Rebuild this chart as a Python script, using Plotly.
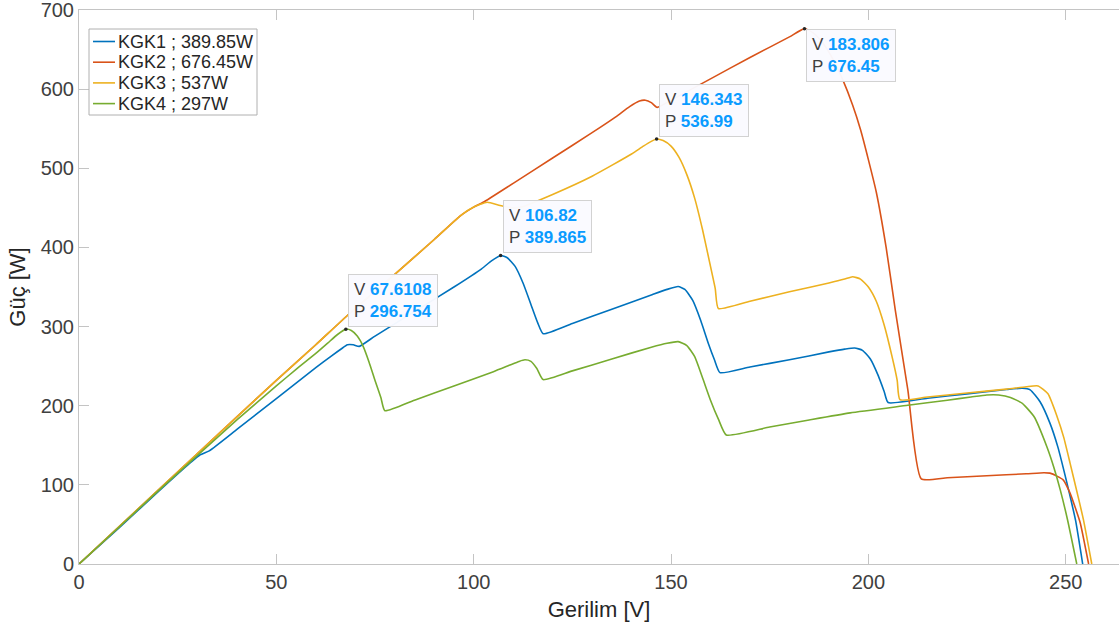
import plotly.graph_objects as go

# Power-voltage curves of four shaded PV array configurations
v_kgk1 = [0, 10, 20, 28, 30.7, 33, 40, 50, 60, 64, 66.5, 68, 69.5, 71, 75, 85, 95, 102, 104.5,
          106.82, 108.5, 110.5, 112.5, 114.5, 116.2, 117.6, 125, 135, 145, 149, 151.8, 153.5,
          155.5, 157.5, 159.5, 161, 162.4, 170, 180, 190, 194, 196.5, 198.5, 200.5, 202.5, 204,
          205, 215, 225, 235, 239, 241, 243.5, 246, 248, 249.5, 251, 252.5, 254.3]
p_kgk1 = [0, 45, 91, 127, 138, 143, 170, 209, 248, 263, 272, 277, 277, 275, 288, 319, 350, 373, 383,
          389.865, 387, 376, 355, 328, 305, 291, 304, 322, 340, 347, 350.6, 347,
          333, 308, 278, 258, 241.8, 249, 258, 268, 271.5, 273, 270, 259, 238, 218,
          204, 209.5, 215, 220.5, 222, 220, 205, 178, 148, 119, 88, 55, 0]

v_kgk2 = [0, 20, 40, 50, 60, 68, 80, 90, 96.6, 100, 102.4, 110, 120, 130, 136, 139.5, 142, 143.5,
          145, 146.5, 150, 160, 170, 180, 183.806, 186, 188.5, 191, 193.5, 196, 198, 200, 202,
          204.5, 206.8, 210, 213.4, 220, 230, 240, 244.5, 246, 247.8, 249.4, 251.1, 252.5, 253.7, 255.8]
p_kgk2 = [0, 93, 186, 232, 277, 314, 366, 410, 440, 451, 457, 481, 513, 545, 565, 578, 585, 586,
          583, 577, 586, 613, 640, 666, 676.45, 671, 658, 638, 612, 580, 549, 511, 470,
          400, 321.5, 220, 107.6, 109, 111.5, 114, 115.3, 114.8, 111, 106, 89.5, 70, 51.5, 0]

v_kgk3 = [0, 20, 40, 50, 60, 68, 80, 90, 96.6, 100, 103.4, 106.7, 110, 112, 120, 130, 140, 143, 145,
          146.343, 148, 150, 152, 154, 156, 158, 160, 161.2, 162, 170, 180, 190, 194, 196, 198,
          200, 202, 204, 206, 207.3, 208, 215, 225, 235, 240, 243, 245.5, 247.8, 249.5, 251.1,
          253, 254.5, 256.6]
p_kgk3 = [0, 93, 186, 232, 277, 314, 366, 410, 440, 451, 457, 453, 450, 451, 467, 490, 518, 528, 534,
          536.99, 535, 528, 514, 492, 462, 422, 376, 348, 322.8, 332, 344, 355, 360, 363, 360,
          350, 332, 302, 262, 232, 207.6, 211, 216, 221, 224, 225, 215, 186.5, 160, 127.5,
          88, 55.7, 0]

v_kgk4 = [0, 20, 40, 50, 55, 60, 63, 65.5, 67.6108, 69, 70.5, 72, 73.5, 75, 76.5, 77.5, 85, 95,
          105, 109, 111.5, 113, 114.5, 116, 117.6, 125, 135, 145, 149, 151.8, 154, 156, 158, 160,
          162, 164, 175, 185, 195.4, 210, 220, 226, 230, 233, 236, 239, 242, 245.2, 247, 248.6,
          250.5, 252.8]
p_kgk4 = [0, 92, 182, 225, 246, 266, 279, 290, 296.754, 295, 288, 275, 255, 232, 210, 193.7, 207, 225,
          243, 251, 256, 258, 256, 247, 233, 244, 259, 274, 279, 281, 276, 262, 235, 207,
          183, 163, 173, 182, 191, 200.5, 207, 211, 213.5, 213.5, 210.5, 203, 186, 148.5, 122, 94,
          55, 0]

series_names = ["KGK1 ; 389.85W", "KGK2 ; 676.45W", "KGK3 ; 537W", "KGK4 ; 297W"]
series_colors = ["#0072BD", "#D95319", "#EDB120", "#77AC30"]

# Data tips at the global maximum power point of each curve
tip_v = [67.6108, 106.82, 146.343, 183.806]
tip_p = [296.754, 389.865, 536.99, 676.45]
tip_below = [False, False, False, True]

x_ticks = [0, 50, 100, 150, 200, 250]
y_ticks = [0, 100, 200, 300, 400, 500, 600, 700]

FONT = "Liberation Sans, Arial"
W, H = 1119, 632
M_L, M_R, M_T, M_B = 79, 0, 10, 68


def px_x(px):
    return (px - M_L) / (W - M_L - M_R)


def px_y(py):
    return (H - M_B - py) / (H - M_T - M_B)


fig = go.Figure()
for v, p, name, color in zip([v_kgk1, v_kgk2, v_kgk3, v_kgk4],
                             [p_kgk1, p_kgk2, p_kgk3, p_kgk4],
                             series_names, series_colors):
    fig.add_trace(go.Scatter(x=v, y=p, mode="lines", name=name, showlegend=False,
                             line=dict(color=color, width=1.6, shape="spline", smoothing=0.5)))

fig.add_trace(go.Scatter(x=tip_v, y=tip_p, mode="markers", showlegend=False,
                         marker=dict(color="#262626", size=3.5)))

for v, p, below in zip(tip_v, tip_p, tip_below):
    txt = (f"V <b><span style='color:#0A9BFF'>{v:g}</span></b><br>"
           f"P <b><span style='color:#0A9BFF'>{p:g}</span></b>")
    fig.add_annotation(x=v, y=p, xref="x", yref="y", text=txt, showarrow=False,
                       xanchor="left", yanchor="top" if below else "bottom",
                       xshift=2, yshift=0 if below else 2, align="left",
                       font=dict(family=FONT, size=17, color="#404040"),
                       bgcolor="rgba(250,250,255,0.97)", bordercolor="#D2D2D2",
                       borderwidth=1, borderpad=5)

# Legend box drawn in paper coordinates
fig.add_shape(type="rect", xref="paper", yref="paper",
              x0=px_x(89), x1=px_x(257), y0=px_y(115), y1=px_y(29),
              line=dict(color="#B0B0B0", width=1), fillcolor="white", layer="above")
for i, (name, color) in enumerate(zip(series_names, series_colors)):
    row_y = 41.5 + i * 20.7
    fig.add_shape(type="line", xref="paper", yref="paper",
                  x0=px_x(93), x1=px_x(115), y0=px_y(row_y), y1=px_y(row_y),
                  line=dict(color=color, width=1.6), layer="above")
    fig.add_annotation(xref="paper", yref="paper", x=px_x(115.5), y=px_y(row_y),
                       text=name, showarrow=False, xanchor="left", yanchor="middle",
                       font=dict(family=FONT, size=18, color="#262626"))

axis_common = dict(showline=True, linecolor="#C4C4C4", linewidth=1, ticks="inside",
                   ticklen=10, tickcolor="#C4C4C4", showgrid=False, zeroline=False,
                   ticklabeloverflow="allow",
                   tickfont=dict(family=FONT, size=20, color="#404040"))

fig.update_layout(
    width=W, height=H,
    margin=dict(l=M_L, r=M_R, t=M_T, b=M_B),
    paper_bgcolor="white", plot_bgcolor="white",
    xaxis=dict(range=[0, 263.5], tickvals=x_ticks, mirror="ticks",
               title=dict(text="Gerilim [V]", standoff=9,
                          font=dict(family=FONT, size=22, color="#262626")),
               **axis_common),
    yaxis=dict(range=[0, 700], tickvals=y_ticks, mirror=False,
               title=dict(text="Güç [W]", standoff=8,
                          font=dict(family=FONT, size=22, color="#262626")),
               **axis_common),
    showlegend=False,
)

fig.write_html("out.html")
